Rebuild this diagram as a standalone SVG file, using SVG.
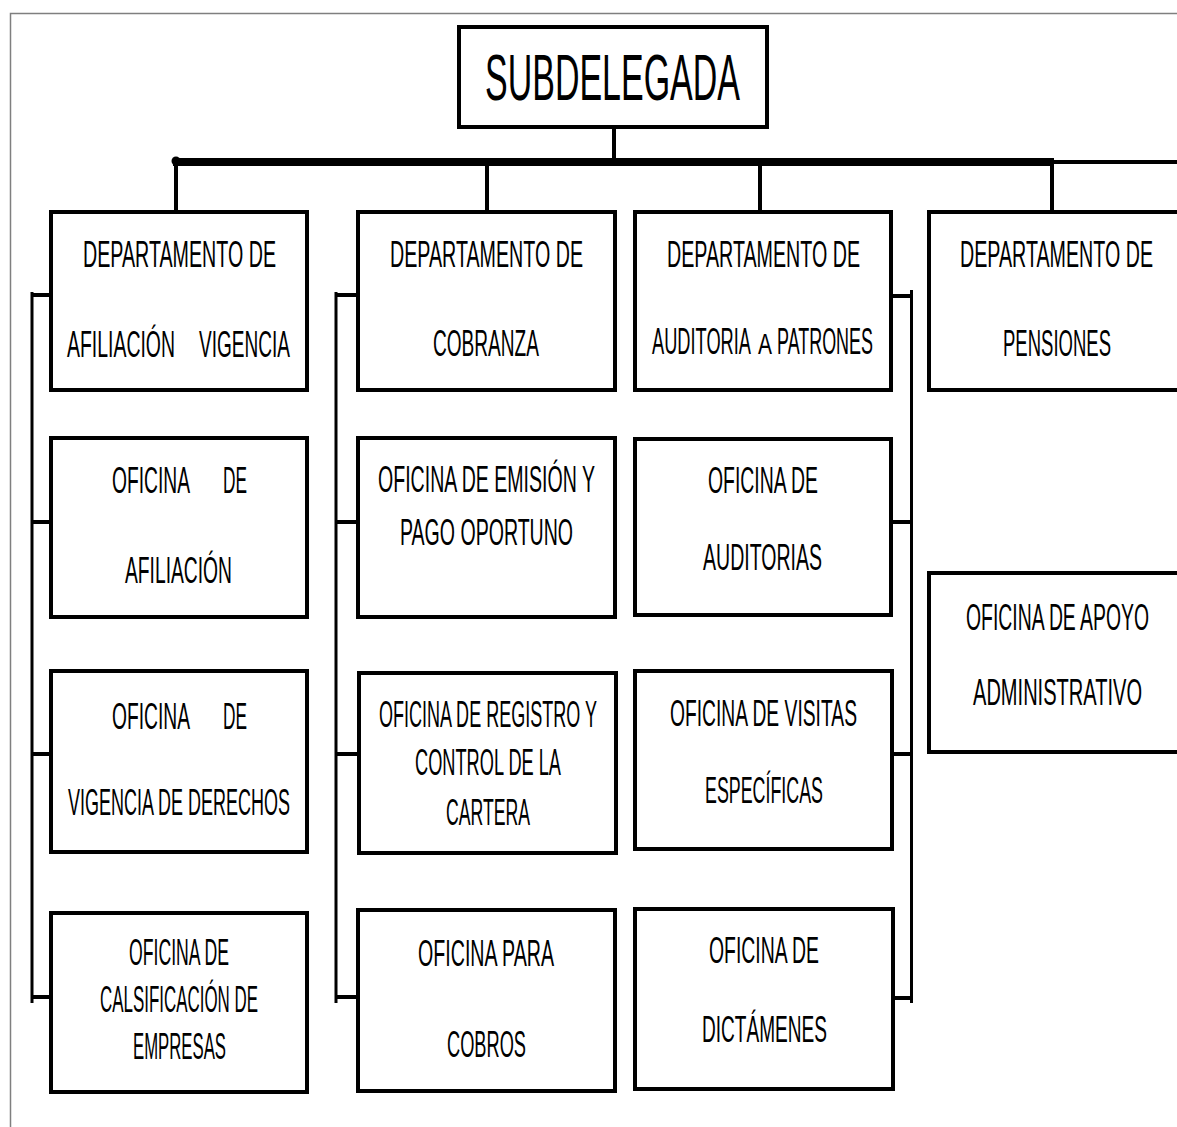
<svg xmlns="http://www.w3.org/2000/svg" width="1177" height="1127" viewBox="0 0 1177 1127">
<style>
.box{fill:#fff;stroke:#000;stroke-width:4}
.t{font-family:"Liberation Sans Narrow","Liberation Sans",Arial,sans-serif;font-size:37.5px;fill:#000}
.ts{font-size:29px}
.big{font-family:"Liberation Sans Narrow","Liberation Sans",Arial,sans-serif;font-size:65px;fill:#000}
.c{stroke:#000;fill:none}
</style>
<rect x="0" y="0" width="1177" height="1127" fill="#fff"/>
<path d="M10.5 1127 V13.5 H1177" stroke="#7f7f7f" stroke-width="1.5" fill="none"/>

<g id="connectors">
  <line class="c" x1="614" y1="128" x2="614" y2="162" stroke-width="4"/>
  <line class="c" x1="173" y1="162" x2="1054" y2="162" stroke-width="8"/>
  <circle cx="176" cy="161" r="4.5" fill="#000"/>
  <line class="c" x1="1054" y1="162" x2="1177" y2="162" stroke-width="4"/>
  <line class="c" x1="176" y1="162" x2="176" y2="211" stroke-width="4"/>
  <line class="c" x1="487" y1="162" x2="487" y2="212" stroke-width="4"/>
  <line class="c" x1="760" y1="162" x2="760" y2="212" stroke-width="4"/>
  <line class="c" x1="1052" y1="162" x2="1052" y2="213" stroke-width="4"/>
  <line class="c" x1="32" y1="292" x2="32" y2="1003" stroke-width="3"/>
  <line class="c" x1="31" y1="295" x2="50" y2="295" stroke-width="4"/>
  <line class="c" x1="31" y1="522" x2="50" y2="522" stroke-width="4"/>
  <line class="c" x1="31" y1="754" x2="50" y2="754" stroke-width="4"/>
  <line class="c" x1="31" y1="997" x2="50" y2="997" stroke-width="4"/>
  <line class="c" x1="336" y1="292" x2="336" y2="1003" stroke-width="3"/>
  <line class="c" x1="335" y1="295" x2="357" y2="295" stroke-width="4"/>
  <line class="c" x1="335" y1="522" x2="357" y2="522" stroke-width="4"/>
  <line class="c" x1="335" y1="754" x2="357" y2="754" stroke-width="4"/>
  <line class="c" x1="335" y1="997" x2="357" y2="997" stroke-width="4"/>
  <line class="c" x1="911.5" y1="290" x2="911.5" y2="1003" stroke-width="3"/>
  <line class="c" x1="893" y1="296" x2="913" y2="296" stroke-width="4"/>
  <line class="c" x1="893" y1="522" x2="913" y2="522" stroke-width="4"/>
  <line class="c" x1="893" y1="754" x2="913" y2="754" stroke-width="4"/>
  <line class="c" x1="893" y1="998" x2="913" y2="998" stroke-width="4"/>
</g>

<g id="subdelegada">
  <rect class="box" x="459" y="27" width="308" height="100"/>
  <text class="big" x="485" y="100" textLength="255" lengthAdjust="spacingAndGlyphs">SUBDELEGADA</text>
</g>

<g id="dep-afiliacion">
  <rect class="box" x="51" y="212" width="256" height="178"/>
  <text class="t" x="83" y="267" textLength="193" lengthAdjust="spacingAndGlyphs">DEPARTAMENTO DE</text>
  <text class="t" y="357"><tspan x="67" textLength="108" lengthAdjust="spacingAndGlyphs">AFILIACIÓN</tspan> <tspan x="199" textLength="91" lengthAdjust="spacingAndGlyphs">VIGENCIA</tspan></text>
</g>
<g id="of-afiliacion">
  <rect class="box" x="51" y="438" width="256" height="179"/>
  <text class="t" y="493"><tspan x="112" textLength="77" lengthAdjust="spacingAndGlyphs">OFICINA</tspan> <tspan x="223" textLength="24" lengthAdjust="spacingAndGlyphs">DE</tspan></text>
  <text class="t" x="125" y="583" textLength="107" lengthAdjust="spacingAndGlyphs">AFILIACIÓN</text>
</g>
<g id="of-vigencia">
  <rect class="box" x="51" y="671" width="256" height="181"/>
  <text class="t" y="729"><tspan x="112" textLength="77" lengthAdjust="spacingAndGlyphs">OFICINA</tspan> <tspan x="223" textLength="24" lengthAdjust="spacingAndGlyphs">DE</tspan></text>
  <text class="t" x="68" y="815" textLength="222" lengthAdjust="spacingAndGlyphs">VIGENCIA DE DERECHOS</text>
</g>
<g id="of-clasificacion">
  <rect class="box" x="51" y="913" width="256" height="179"/>
  <text class="t" x="129" y="965" textLength="100" lengthAdjust="spacingAndGlyphs">OFICINA DE</text>
  <text class="t" x="100" y="1012" textLength="158" lengthAdjust="spacingAndGlyphs">CALSIFICACIÓN DE</text>
  <text class="t" x="133" y="1059" textLength="93" lengthAdjust="spacingAndGlyphs">EMPRESAS</text>
</g>

<g id="dep-cobranza">
  <rect class="box" x="358" y="212" width="257" height="178"/>
  <text class="t" x="390" y="267" textLength="193" lengthAdjust="spacingAndGlyphs">DEPARTAMENTO DE</text>
  <text class="t" x="433" y="356" textLength="106" lengthAdjust="spacingAndGlyphs">COBRANZA</text>
</g>
<g id="of-emision">
  <rect class="box" x="358" y="438" width="257" height="179"/>
  <text class="t" x="378" y="492" textLength="217" lengthAdjust="spacingAndGlyphs">OFICINA DE EMISIÓN Y</text>
  <text class="t" x="400" y="545" textLength="173" lengthAdjust="spacingAndGlyphs">PAGO OPORTUNO</text>
</g>
<g id="of-registro">
  <rect class="box" x="359" y="673" width="257" height="180"/>
  <text class="t" x="379" y="727" textLength="218" lengthAdjust="spacingAndGlyphs">OFICINA DE REGISTRO Y</text>
  <text class="t" x="415" y="775" textLength="146" lengthAdjust="spacingAndGlyphs">CONTROL DE LA</text>
  <text class="t" x="446" y="825" textLength="84" lengthAdjust="spacingAndGlyphs">CARTERA</text>
</g>
<g id="of-cobros">
  <rect class="box" x="358" y="910" width="257" height="181"/>
  <text class="t" x="418" y="966" textLength="136" lengthAdjust="spacingAndGlyphs">OFICINA PARA</text>
  <text class="t" x="447" y="1057" textLength="79" lengthAdjust="spacingAndGlyphs">COBROS</text>
</g>

<g id="dep-auditoria">
  <rect class="box" x="635" y="212" width="256" height="178"/>
  <text class="t" x="667" y="267" textLength="193" lengthAdjust="spacingAndGlyphs">DEPARTAMENTO DE</text>
  <text class="t" y="354"><tspan x="652" textLength="98" lengthAdjust="spacingAndGlyphs">AUDITORIA</tspan> <tspan class="ts" x="758" textLength="14" lengthAdjust="spacingAndGlyphs">A</tspan> <tspan x="777" textLength="96" lengthAdjust="spacingAndGlyphs">PATRONES</tspan></text>
</g>
<g id="of-auditorias">
  <rect class="box" x="635" y="439" width="256" height="176"/>
  <text class="t" x="708" y="493" textLength="110" lengthAdjust="spacingAndGlyphs">OFICINA DE</text>
  <text class="t" x="703" y="570" textLength="119" lengthAdjust="spacingAndGlyphs">AUDITORIAS</text>
</g>
<g id="of-visitas">
  <rect class="box" x="635" y="671" width="257" height="178"/>
  <text class="t" x="670" y="726" textLength="187" lengthAdjust="spacingAndGlyphs">OFICINA DE VISITAS</text>
  <text class="t" x="705" y="803" textLength="118" lengthAdjust="spacingAndGlyphs">ESPECÍFICAS</text>
</g>
<g id="of-dictamenes">
  <rect class="box" x="635" y="909" width="258" height="180"/>
  <text class="t" x="709" y="963" textLength="110" lengthAdjust="spacingAndGlyphs">OFICINA DE</text>
  <text class="t" x="702" y="1042" textLength="125" lengthAdjust="spacingAndGlyphs">DICTÁMENES</text>
</g>

<g id="dep-pensiones">
  <rect class="box" x="929" y="212" width="260" height="178"/>
  <text class="t" x="960" y="267" textLength="193" lengthAdjust="spacingAndGlyphs">DEPARTAMENTO DE</text>
  <text class="t" x="1003" y="356" textLength="108" lengthAdjust="spacingAndGlyphs">PENSIONES</text>
</g>
<g id="of-apoyo">
  <rect class="box" x="929" y="573" width="260" height="179"/>
  <text class="t" x="966" y="630" textLength="183" lengthAdjust="spacingAndGlyphs">OFICINA DE APOYO</text>
  <text class="t" x="973" y="705" textLength="169" lengthAdjust="spacingAndGlyphs">ADMINISTRATIVO</text>
</g>
</svg>
